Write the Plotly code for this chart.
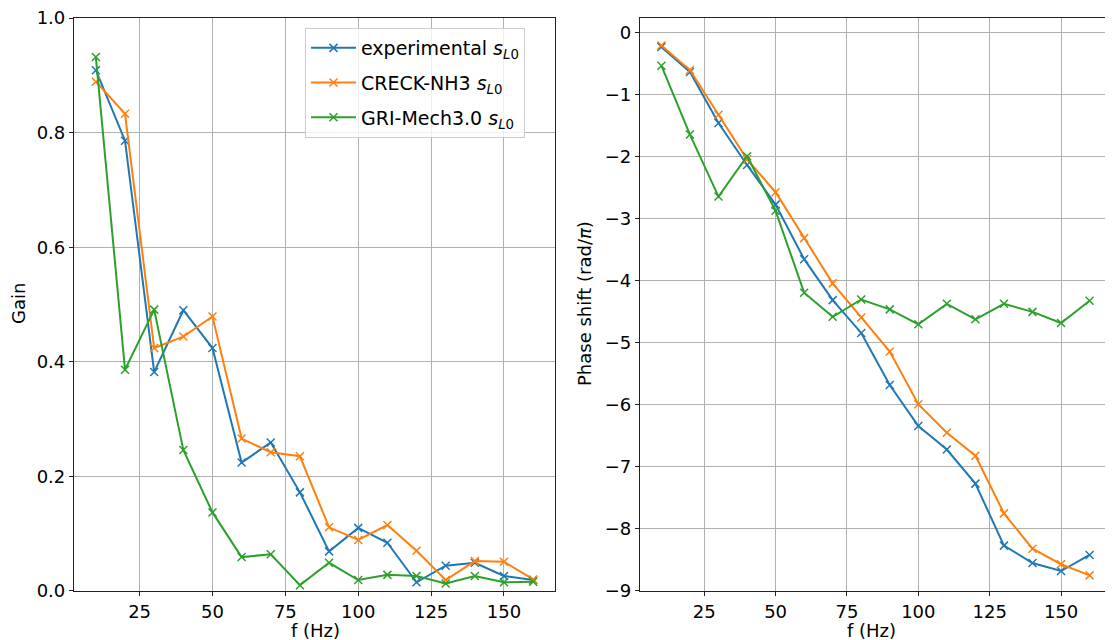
import plotly.graph_objects as go

freq = [10, 20, 30, 40, 50, 60, 70, 80, 90, 100, 110, 120, 130, 140, 150, 160]

gain_exp = [0.909, 0.786, 0.382, 0.490, 0.424, 0.224, 0.259, 0.172, 0.069, 0.110, 0.084, 0.015, 0.044, 0.049, 0.026, 0.019]
gain_creck = [0.889, 0.833, 0.424, 0.444, 0.479, 0.266, 0.242, 0.235, 0.111, 0.089, 0.115, 0.070, 0.019, 0.052, 0.051, 0.020]
gain_gri = [0.932, 0.386, 0.491, 0.246, 0.137, 0.059, 0.064, 0.010, 0.049, 0.019, 0.028, 0.026, 0.013, 0.026, 0.015, 0.016]

phase_exp = [-0.226, -0.63, -1.454, -2.13, -2.77, -3.65, -4.31, -4.84, -5.68, -6.34, -6.72, -7.27, -8.27, -8.55, -8.68, -8.42]
phase_creck = [-0.205, -0.60, -1.32, -2.04, -2.57, -3.31, -4.04, -4.59, -5.14, -5.99, -6.45, -6.82, -7.75, -8.32, -8.57, -8.75]
phase_gri = [-0.53, -1.64, -2.64, -1.99, -2.87, -4.19, -4.58, -4.30, -4.46, -4.70, -4.37, -4.62, -4.37, -4.50, -4.68, -4.32]

x_ticks = [25, 50, 75, 100, 125, 150]
gain_ticks = [0.0, 0.2, 0.4, 0.6, 0.8, 1.0]
phase_ticks = [-9, -8, -7, -6, -5, -4, -3, -2, -1, 0]

names = ["experimental <i>s</i><sub><i>L</i>0</sub>",
         "CRECK-NH3 <i>s</i><sub><i>L</i>0</sub>",
         "GRI-Mech3.0 <i>s</i><sub><i>L</i>0</sub>"]
colors = ["#1f77b4", "#ff7f0e", "#2ca02c"]

FONT = "DejaVu Sans"
FS = 18
LFS = 19
OFF = 8  # page body margin offset

fig = go.Figure()
for i, (g, p, n, c) in enumerate(zip([gain_exp, gain_creck, gain_gri], [phase_exp, phase_creck, phase_gri], names, colors)):
    mk = dict(symbol="x-thin-open", size=8, line=dict(color=c, width=1.5))
    fig.add_trace(go.Scatter(x=freq, y=g, mode="lines+markers", name=n, legendgroup=f"g{i}",
                             line=dict(color=c, width=2), marker=mk,
                             xaxis="x", yaxis="y"))
    fig.add_trace(go.Scatter(x=freq, y=p, mode="lines+markers", name=n, showlegend=False,
                             legendgroup=f"g{i}",
                             line=dict(color=c, width=2), marker=mk,
                             xaxis="x2", yaxis="y2"))

axis_common = dict(showgrid=True, gridcolor="#b0b0b0", gridwidth=0.8,
                   showline=True, linecolor="#222222", linewidth=1.2, mirror=True,
                   ticks="outside", ticklen=4, tickcolor="#222222", zeroline=False,
                   automargin=False, ticklabeloverflow="allow",
                   tickfont=dict(family=FONT, size=FS, color="black"))

W, H = 1113 - OFF, 640 - OFF
L, R, T, B = 74 - OFF, 10 - OFF, 18 - OFF, 49
PW = W - L - R
PH = H - T - B

def dx(px):
    return (px - OFF - L) / PW

def py(px):
    return 1 - (px - OFF - T) / PH

fig.update_layout(
    width=W, height=H,
    margin=dict(l=L, r=R, t=T, b=B, autoexpand=False),
    paper_bgcolor="white", plot_bgcolor="white",
    font=dict(family=FONT, size=FS, color="black"),
    xaxis=dict(domain=[0, dx(555)], range=[2.5, 167.5], tickvals=x_ticks, anchor="y", **axis_common),
    yaxis=dict(domain=[0, 1], range=[-0.0002, 1.0002], tickvals=gain_ticks,
               tickformat=".1f", anchor="x", **axis_common),
    xaxis2=dict(domain=[dx(640), 1], range=[2.5, 167.5], tickvals=x_ticks, anchor="y2", **axis_common),
    yaxis2=dict(domain=[0, 1], range=[-9.002, 0.24], tickvals=phase_ticks,
                anchor="x2", **axis_common),
    legend=dict(x=dx(305), y=py(28), xanchor="left", yanchor="top",
                bgcolor="rgba(255,255,255,0.8)", bordercolor="#cccccc", borderwidth=1,
                font=dict(family=FONT, size=LFS), tracegroupgap=7, itemwidth=45),
    showlegend=True,
    annotations=[
        dict(text="f (Hz)", x=(75 + 555) / 2, y=630, xref="paper", yref="paper",
             showarrow=False, font=dict(family=FONT, size=FS), xanchor="center", yanchor="middle"),
        dict(text="f (Hz)", x=(640 + 1103) / 2, y=630, xref="paper", yref="paper",
             showarrow=False, font=dict(family=FONT, size=FS), xanchor="center", yanchor="middle"),
        dict(text="Gain", x=18, y=304, xref="paper", yref="paper", textangle=-90,
             showarrow=False, font=dict(family=FONT, size=FS), xanchor="center", yanchor="middle"),
        dict(text="Phase shift (rad/<i>π</i>)", x=584, y=304, xref="paper", yref="paper", textangle=-90,
             showarrow=False, font=dict(family=FONT, size=FS), xanchor="center", yanchor="middle"),
    ],
)

for a in fig.layout.annotations:
    a.x = dx(a.x)
    a.y = py(a.y)

fig.write_html("out.html")
